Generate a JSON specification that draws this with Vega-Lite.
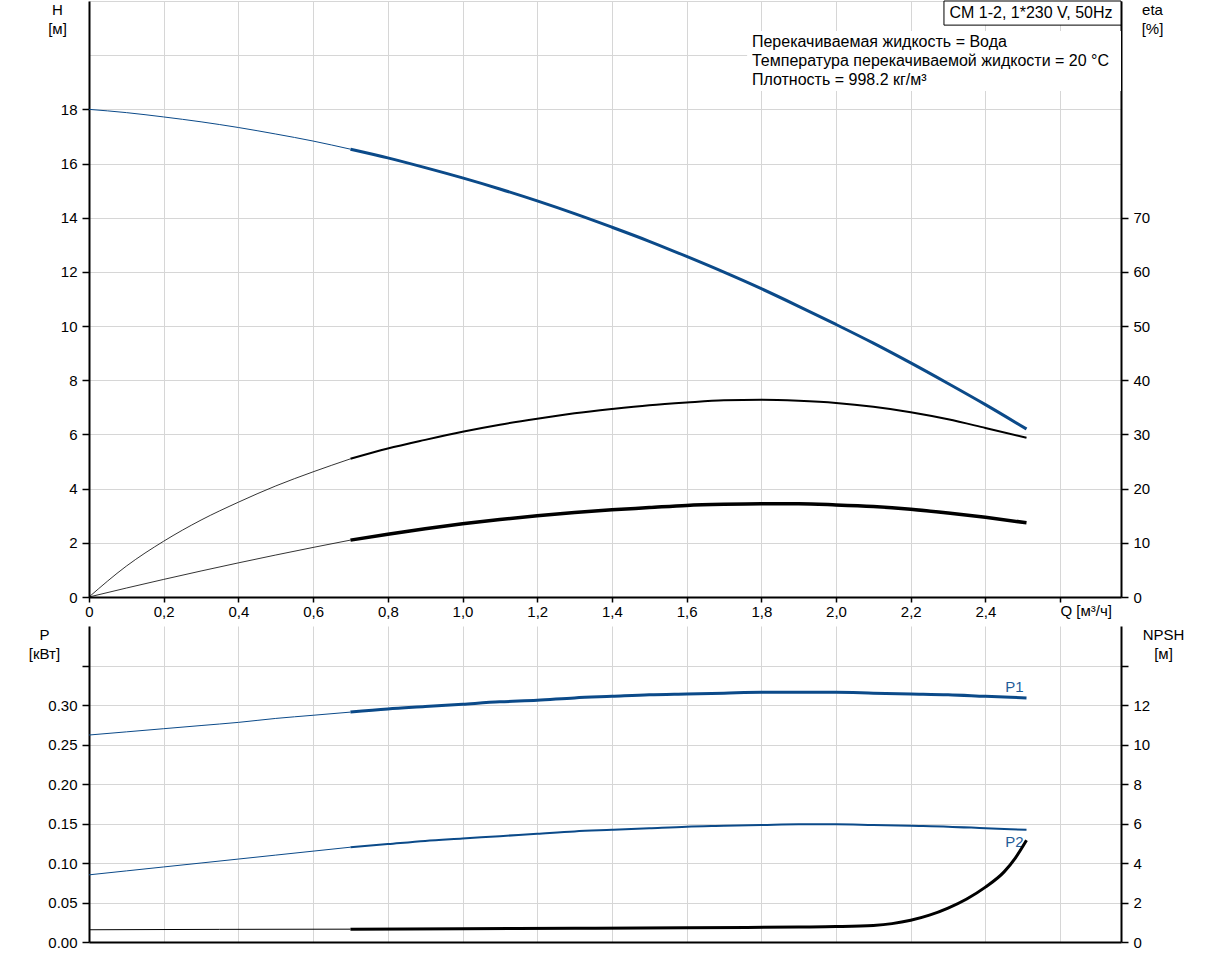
{
  "$schema": "https://vega.github.io/schema/vega-lite/v6.json",
  "background": "white",
  "padding": {"left": 28, "top": 0, "right": 0, "bottom": 0},
  "spacing": 7,
  "config": {
    "font": "Liberation Sans",
    "view": {"stroke": null},
    "axis": {
      "labelFont": "Liberation Sans",
      "labelFontSize": 15,
      "labelColor": "#000000",
      "titleFont": "Liberation Sans",
      "titleFontSize": 15,
      "titleFontWeight": "normal",
      "titleColor": "#000000",
      "domainColor": "#000000",
      "domainWidth": 2,
      "tickColor": "#000000",
      "tickWidth": 1.5,
      "gridColor": "#d6d6d6",
      "gridWidth": 1,
      "labelOverlap": false,
      "labelFlush": false
    },
    "axisX": {"labelOverlap": false, "labelSeparation": -15, "labelFlush": false},
    "text": {"font": "Liberation Sans", "fontSize": 16, "color": "#000000"}
  },
  "datasets": {
    "top": [
      {"Q": 0, "H": 18.00, "eta": 0, "etaTot": 0},
      {"Q": 0.1, "H": 17.88, "eta": 5.7, "etaTot": 1.65},
      {"Q": 0.2, "H": 17.72, "eta": 10.3, "etaTot": 3.25},
      {"Q": 0.3, "H": 17.54, "eta": 14.2, "etaTot": 4.8},
      {"Q": 0.4, "H": 17.33, "eta": 17.5, "etaTot": 6.3},
      {"Q": 0.5, "H": 17.09, "eta": 20.5, "etaTot": 7.75},
      {"Q": 0.6, "H": 16.83, "eta": 23.1, "etaTot": 9.15},
      {"Q": 0.7, "H": 16.53, "eta": 25.5, "etaTot": 10.5},
      {"Q": 0.8, "H": 16.21, "eta": 27.4, "etaTot": 11.6},
      {"Q": 0.9, "H": 15.85, "eta": 29.0, "etaTot": 12.6},
      {"Q": 1.0, "H": 15.47, "eta": 30.5, "etaTot": 13.5},
      {"Q": 1.1, "H": 15.06, "eta": 31.8, "etaTot": 14.3},
      {"Q": 1.2, "H": 14.62, "eta": 32.9, "etaTot": 15.0},
      {"Q": 1.3, "H": 14.15, "eta": 33.9, "etaTot": 15.6},
      {"Q": 1.4, "H": 13.65, "eta": 34.7, "etaTot": 16.1},
      {"Q": 1.5, "H": 13.13, "eta": 35.4, "etaTot": 16.5},
      {"Q": 1.6, "H": 12.57, "eta": 35.9, "etaTot": 16.9},
      {"Q": 1.7, "H": 11.99, "eta": 36.3, "etaTot": 17.1},
      {"Q": 1.8, "H": 11.38, "eta": 36.4, "etaTot": 17.2},
      {"Q": 1.9, "H": 10.73, "eta": 36.2, "etaTot": 17.2},
      {"Q": 2.0, "H": 10.06, "eta": 35.8, "etaTot": 17.0},
      {"Q": 2.1, "H": 9.37, "eta": 35.1, "etaTot": 16.7},
      {"Q": 2.2, "H": 8.64, "eta": 34.1, "etaTot": 16.2},
      {"Q": 2.3, "H": 7.88, "eta": 32.8, "etaTot": 15.5},
      {"Q": 2.4, "H": 7.10, "eta": 31.2, "etaTot": 14.7},
      {"Q": 2.51, "H": 6.20, "eta": 29.4, "etaTot": 13.7}
    ],
    "power": [
      {"Q": 0, "P1": 0.262, "P2": 0.085},
      {"Q": 0.1, "P1": 0.266, "P2": 0.090},
      {"Q": 0.2, "P1": 0.270, "P2": 0.095},
      {"Q": 0.3, "P1": 0.274, "P2": 0.100},
      {"Q": 0.4, "P1": 0.278, "P2": 0.105},
      {"Q": 0.5, "P1": 0.283, "P2": 0.110},
      {"Q": 0.6, "P1": 0.287, "P2": 0.115},
      {"Q": 0.7, "P1": 0.291, "P2": 0.120},
      {"Q": 0.8, "P1": 0.295, "P2": 0.124},
      {"Q": 0.9, "P1": 0.298, "P2": 0.128},
      {"Q": 1.0, "P1": 0.301, "P2": 0.131},
      {"Q": 1.1, "P1": 0.304, "P2": 0.134},
      {"Q": 1.2, "P1": 0.306, "P2": 0.137},
      {"Q": 1.3, "P1": 0.309, "P2": 0.140},
      {"Q": 1.4, "P1": 0.311, "P2": 0.142},
      {"Q": 1.5, "P1": 0.313, "P2": 0.144},
      {"Q": 1.6, "P1": 0.314, "P2": 0.146},
      {"Q": 1.7, "P1": 0.315, "P2": 0.147},
      {"Q": 1.8, "P1": 0.316, "P2": 0.148},
      {"Q": 1.9, "P1": 0.316, "P2": 0.149},
      {"Q": 2.0, "P1": 0.316, "P2": 0.149},
      {"Q": 2.1, "P1": 0.315, "P2": 0.148},
      {"Q": 2.2, "P1": 0.314, "P2": 0.147},
      {"Q": 2.3, "P1": 0.313, "P2": 0.146},
      {"Q": 2.4, "P1": 0.311, "P2": 0.144},
      {"Q": 2.51, "P1": 0.309, "P2": 0.142}
    ],
    "npsh": [
      {"Q": 0, "NPSH": 0.62},
      {"Q": 0.35, "NPSH": 0.64},
      {"Q": 0.7, "NPSH": 0.65},
      {"Q": 1.0, "NPSH": 0.67},
      {"Q": 1.3, "NPSH": 0.69},
      {"Q": 1.6, "NPSH": 0.72},
      {"Q": 1.9, "NPSH": 0.76},
      {"Q": 2.0, "NPSH": 0.78},
      {"Q": 2.1, "NPSH": 0.84},
      {"Q": 2.15, "NPSH": 0.93},
      {"Q": 2.2, "NPSH": 1.1},
      {"Q": 2.25, "NPSH": 1.36},
      {"Q": 2.3, "NPSH": 1.72},
      {"Q": 2.35, "NPSH": 2.18},
      {"Q": 2.4, "NPSH": 2.78},
      {"Q": 2.45, "NPSH": 3.55},
      {"Q": 2.48, "NPSH": 4.25},
      {"Q": 2.51, "NPSH": 5.15}
    ],
    "notes": [
      {"model": "CM 1-2, 1*230 V, 50Hz"}
    ]
  },
  "vconcat": [
    {
      "width": 1032,
      "height": 596,
      "layer": [
        {
          "data": {"name": "top"},
          "layer": [
            {
              "transform": [{"filter": "datum.Q <= 0.7"}],
              "mark": {"type": "line", "color": "#0b4a89", "strokeWidth": 1, "interpolate": "monotone"},
              "encoding": {
                "x": {"field": "Q", "type": "quantitative", "scale": {"domain": [0, 2.763], "nice": false},
                  "axis": {"values": [0,0.1,0.2,0.3,0.4,0.5,0.6,0.7,0.8,0.9,1,1.1,1.2,1.3,1.4,1.5,1.6,1.7,1.8,1.9,2,2.1,2.2,2.3,2.4,2.5,2.6,2.7],
                    "labelExpr": "datum.value > 2.55 ? '' : (datum.value == 0 ? '0' : replace(format(datum.value, '.1f'), '.', ','))",
                    "labelOverlap": false, "labelFlush": false, "labelBound": false, "labelSeparation": -15,
                    "grid": true, "tickSize": 5, "labelPadding": 2,
                    "title": "Q [м³/ч]", "titleX": 971, "titleY": 13, "titleAlign": "left", "titleBaseline": "middle"}},
                "y": {"field": "H", "type": "quantitative", "scale": {"domain": [0, 22], "nice": false},
                  "axis": {"values": [0,2,4,6,8,10,12,14,16,18,20,22],
                    "labelExpr": "datum.value > 18 ? '' : datum.label",
                    "labelBaseline": {"condition": {"test": "datum.value > 21", "value": "top"}, "value": "middle"},
                    "tickOpacity": {"condition": {"test": "datum.value > 18", "value": 0}, "value": 1},
                    "labelOverlap": false,
                    "grid": true, "tickSize": 7, "labelPadding": 5,
                    "title": ["H", "[м]"], "titleAngle": 0, "titleX": -32, "titleY": 1, "titleAlign": "center", "titleBaseline": "top", "titleLineHeight": 19}}
              }
            },
            {
              "transform": [{"filter": "datum.Q >= 0.7"}],
              "mark": {"type": "line", "color": "#0b4a89", "strokeWidth": 3, "interpolate": "monotone"},
              "encoding": {
                "x": {"field": "Q", "type": "quantitative"},
                "y": {"field": "H", "type": "quantitative"}
              }
            }
          ]
        },
        {
          "data": {"name": "top"},
          "layer": [
            {
              "transform": [{"filter": "datum.Q <= 0.7"}],
              "mark": {"type": "line", "color": "#000000", "strokeWidth": 0.8, "interpolate": "monotone"},
              "encoding": {
                "x": {"field": "Q", "type": "quantitative", "scale": {"domain": [0, 2.763], "nice": false}, "axis": null},
                "y": {"field": "eta", "type": "quantitative", "scale": {"domain": [0, 110], "nice": false},
                  "axis": {"orient": "right", "values": [0,10,20,30,40,50,60,70], "grid": false, "tickSize": 7, "labelPadding": 5,
                    "title": ["eta", "[%]"], "titleAngle": 0, "titleX": 31, "titleY": 1, "titleAlign": "center", "titleBaseline": "top", "titleLineHeight": 19}}
              }
            },
            {
              "transform": [{"filter": "datum.Q >= 0.7"}],
              "mark": {"type": "line", "color": "#000000", "strokeWidth": 2, "interpolate": "monotone"},
              "encoding": {
                "x": {"field": "Q", "type": "quantitative", "axis": null},
                "y": {"field": "eta", "type": "quantitative"}
              }
            },
            {
              "transform": [{"filter": "datum.Q <= 0.7"}],
              "mark": {"type": "line", "color": "#000000", "strokeWidth": 0.8, "interpolate": "monotone"},
              "encoding": {
                "x": {"field": "Q", "type": "quantitative", "axis": null},
                "y": {"field": "etaTot", "type": "quantitative"}
              }
            },
            {
              "transform": [{"filter": "datum.Q >= 0.7"}],
              "mark": {"type": "line", "color": "#000000", "strokeWidth": 3.5, "interpolate": "monotone"},
              "encoding": {
                "x": {"field": "Q", "type": "quantitative", "axis": null},
                "y": {"field": "etaTot", "type": "quantitative"}
              }
            }
          ]
        },
        {
          "data": {"name": "notes"},
          "layer": [
            {
              "mark": {"type": "rect", "fill": "white", "stroke": null},
              "encoding": {
                "x": {"datum": 1.762, "type": "quantitative", "scale": {"domain": [0, 2.763], "nice": false}, "axis": null},
                "x2": {"datum": 2.763},
                "y": {"datum": 20.89, "type": "quantitative", "scale": {"domain": [0, 22], "nice": false}, "axis": null},
                "y2": {"datum": 18.68}
              }
            },
            {
              "mark": {"type": "text", "align": "left", "baseline": "middle", "lineHeight": 19,
                "text": ["Перекачиваемая жидкость = Вода", "Температура перекачиваемой жидкости = 20 °C", "Плотность = 998.2 кг/м³"]},
              "encoding": {
                "x": {"datum": 1.775, "type": "quantitative", "axis": null},
                "y": {"datum": 20.49, "type": "quantitative", "axis": null}
              }
            },
            {
              "mark": {"type": "rect", "fill": "white", "stroke": "#000000", "strokeWidth": 1},
              "encoding": {
                "x": {"datum": 2.289, "type": "quantitative", "axis": null},
                "x2": {"datum": 2.763},
                "y": {"datum": 22, "type": "quantitative", "axis": null},
                "y2": {"datum": 21.11}
              }
            },
            {
              "mark": {"type": "text", "align": "center", "baseline": "middle"},
              "encoding": {
                "x": {"datum": 2.522, "type": "quantitative", "axis": null},
                "y": {"datum": 21.56, "type": "quantitative", "axis": null},
                "text": {"field": "model"}
              }
            }
          ]
        }
      ],
      "resolve": {"scale": {"x": "independent", "y": "independent"}, "axis": {"x": "independent", "y": "independent"}}
    },
    {
      "width": 1032,
      "height": 316,
      "layer": [
        {
          "data": {"name": "power"},
          "layer": [
            {
              "transform": [{"filter": "datum.Q <= 0.7"}],
              "mark": {"type": "line", "color": "#0b4a89", "strokeWidth": 1, "interpolate": "monotone"},
              "encoding": {
                "x": {"field": "Q", "type": "quantitative", "scale": {"domain": [0, 2.763], "nice": false},
                  "axis": {"values": [0,0.1,0.2,0.3,0.4,0.5,0.6,0.7,0.8,0.9,1,1.1,1.2,1.3,1.4,1.5,1.6,1.7,1.8,1.9,2,2.1,2.2,2.3,2.4,2.5,2.6,2.7],
                    "labels": false, "ticks": false, "grid": true, "title": null}},
                "y": {"field": "P1", "type": "quantitative", "scale": {"domain": [0, 0.4], "nice": false},
                  "axis": {"values": [0,0.05,0.1,0.15,0.2,0.25,0.3,0.35], "format": ".2f",
                    "labelExpr": "datum.value > 0.32 ? '' : datum.label",
                    "labelOverlap": false,
                    "grid": true, "tickSize": 7, "labelPadding": 5,
                    "title": ["P", "[кВт]"], "titleAngle": 0, "titleX": -45, "titleY": 1, "titleAlign": "center", "titleBaseline": "top", "titleLineHeight": 19}}
              }
            },
            {
              "transform": [{"filter": "datum.Q >= 0.7"}],
              "mark": {"type": "line", "color": "#0b4a89", "strokeWidth": 3, "interpolate": "monotone"},
              "encoding": {
                "x": {"field": "Q", "type": "quantitative"},
                "y": {"field": "P1", "type": "quantitative"}
              }
            },
            {
              "transform": [{"filter": "datum.Q <= 0.7"}],
              "mark": {"type": "line", "color": "#0b4a89", "strokeWidth": 1, "interpolate": "monotone"},
              "encoding": {
                "x": {"field": "Q", "type": "quantitative"},
                "y": {"field": "P2", "type": "quantitative"}
              }
            },
            {
              "transform": [{"filter": "datum.Q >= 0.7"}],
              "mark": {"type": "line", "color": "#0b4a89", "strokeWidth": 2, "interpolate": "monotone"},
              "encoding": {
                "x": {"field": "Q", "type": "quantitative"},
                "y": {"field": "P2", "type": "quantitative"}
              }
            },
            {
              "transform": [{"filter": "datum.Q > 2.5"}],
              "mark": {"type": "text", "text": "P1", "fontSize": 15, "color": "#1f5c99", "align": "center", "baseline": "middle", "dx": -12, "dy": -11},
              "encoding": {
                "x": {"field": "Q", "type": "quantitative"},
                "y": {"field": "P1", "type": "quantitative"}
              }
            },
            {
              "transform": [{"filter": "datum.Q > 2.5"}],
              "mark": {"type": "text", "text": "P2", "fontSize": 15, "color": "#1f5c99", "align": "center", "baseline": "middle", "dx": -12, "dy": 12},
              "encoding": {
                "x": {"field": "Q", "type": "quantitative"},
                "y": {"field": "P2", "type": "quantitative"}
              }
            }
          ]
        },
        {
          "data": {"name": "npsh"},
          "layer": [
            {
              "transform": [{"filter": "datum.Q <= 0.7"}],
              "mark": {"type": "line", "color": "#000000", "strokeWidth": 1, "interpolate": "monotone"},
              "encoding": {
                "x": {"field": "Q", "type": "quantitative"},
                "y": {"field": "NPSH", "type": "quantitative", "scale": {"domain": [0, 16], "nice": false},
                  "axis": {"orient": "right", "values": [0,2,4,6,8,10,12,14],
                    "labelExpr": "datum.value > 12 ? '' : datum.label",
                    "grid": false, "tickSize": 7, "labelPadding": 5,
                    "title": ["NPSH", "[м]"], "titleAngle": 0, "titleX": 42, "titleY": 1, "titleAlign": "center", "titleBaseline": "top", "titleLineHeight": 19}}
              }
            },
            {
              "transform": [{"filter": "datum.Q >= 0.7"}],
              "mark": {"type": "line", "color": "#000000", "strokeWidth": 3, "interpolate": "monotone"},
              "encoding": {
                "x": {"field": "Q", "type": "quantitative"},
                "y": {"field": "NPSH", "type": "quantitative"}
              }
            }
          ]
        }
      ],
      "resolve": {"scale": {"y": "independent"}}
    }
  ]
}
